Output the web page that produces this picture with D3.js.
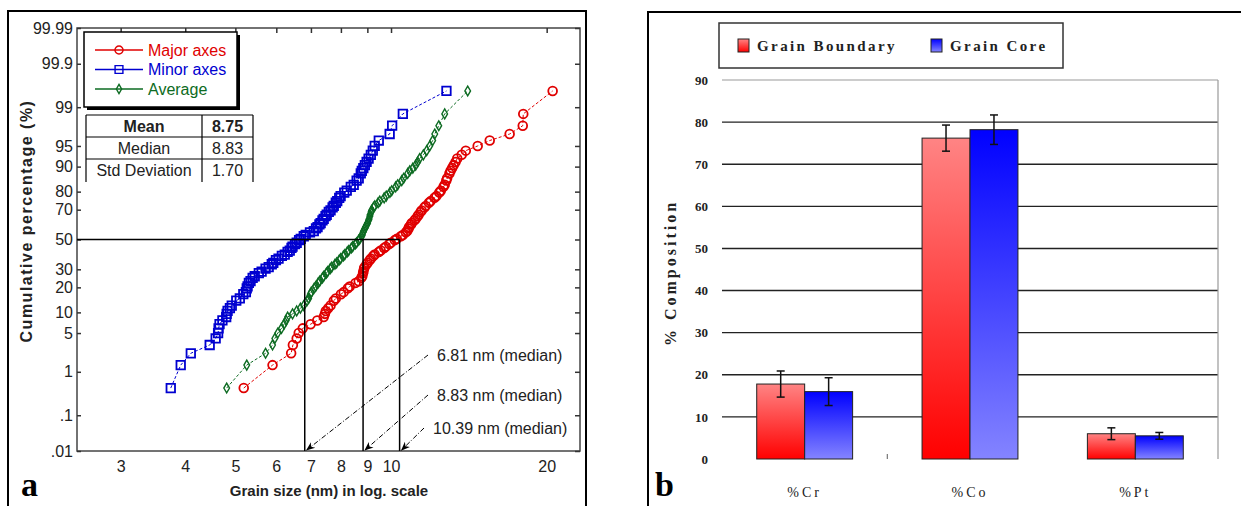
<!DOCTYPE html>
<html>
<head>
<meta charset="utf-8">
<script src="https://cdn.jsdelivr.net/npm/d3@7"></script>
<style>
  body { margin: 0; background: #fff; }
  svg { display: block; }
</style>
</head>
<body>
<svg id="chart" width="1241" height="506"></svg>
<script>
// ---------- data, panel a (cumulative grain size) ----------
const cumPct = [0.45, 1.36, 2.27, 3.18, 4.09, 5.00, 5.91, 6.82, 7.73, 8.64, 9.55, 10.45, 11.36, 12.27,
  14.09, 15.00, 16.82, 17.73, 19.55, 20.45, 22.27, 23.18, 25.00, 25.91, 27.73, 28.64, 30.45, 31.36,
  33.18, 34.09, 35.91, 36.82, 38.64, 39.55, 41.36, 42.27, 44.09, 45.00, 46.82, 47.73, 49.55, 50.45,
  52.27, 53.18, 55.00, 55.91, 57.73, 58.64, 60.45, 61.36, 63.18, 64.09, 65.91, 66.82, 68.64, 69.55,
  71.36, 72.27, 74.09, 75.00, 76.82, 77.73, 79.55, 80.45, 82.27, 83.18, 85.00, 85.91, 87.73, 88.64,
  89.55, 90.45, 91.36, 92.27, 93.18, 94.09, 95.00, 95.91, 96.82, 97.73, 98.64, 99.55];
const majorAxes = [5.19, 5.90, 6.41, 6.46, 6.57, 6.63, 6.75, 6.99, 7.20, 7.41, 7.45, 7.48, 7.56, 7.64,
  7.75, 7.82, 8.00, 8.10, 8.25, 8.32, 8.54, 8.66, 8.76, 8.80, 8.83, 8.84, 8.87, 8.89,
  8.97, 9.01, 9.10, 9.14, 9.24, 9.30, 9.47, 9.55, 9.70, 9.77, 9.92, 9.99, 10.17, 10.26,
  10.45, 10.54, 10.68, 10.75, 10.81, 10.84, 10.93, 10.97, 11.10, 11.16, 11.26, 11.31, 11.41, 11.46,
  11.60, 11.67, 11.84, 11.93, 12.14, 12.24, 12.40, 12.48, 12.63, 12.70, 12.79, 12.84, 12.97, 13.04,
  13.13, 13.22, 13.33, 13.43, 13.70, 13.95, 14.71, 15.52, 16.96, 17.98, 18.02, 20.54];
const minorAxes = [3.75, 3.92, 4.10, 4.46, 4.58, 4.63, 4.64, 4.66, 4.72, 4.80, 4.81, 4.83, 4.88, 4.92,
  5.02, 5.10, 5.18, 5.24, 5.26, 5.28, 5.31, 5.35, 5.40, 5.45, 5.55, 5.62, 5.72, 5.80,
  5.88, 5.92, 5.99, 6.06, 6.15, 6.23, 6.31, 6.37, 6.42, 6.45, 6.52, 6.57, 6.64, 6.69,
  6.78, 6.84, 6.97, 7.09, 7.16, 7.21, 7.27, 7.31, 7.37, 7.41, 7.47, 7.51, 7.58, 7.64,
  7.71, 7.75, 7.82, 7.87, 7.94, 7.99, 8.12, 8.21, 8.36, 8.47, 8.58, 8.66, 8.74, 8.78,
  8.84, 8.90, 8.97, 9.05, 9.14, 9.22, 9.30, 9.47, 9.94, 10.05, 10.54, 12.80];
const averageSize = [4.81, 5.26, 5.72, 5.90, 5.96, 6.04, 6.14, 6.21, 6.27, 6.31, 6.45, 6.57, 6.68, 6.78,
  6.88, 6.93, 6.98, 7.01, 7.10, 7.15, 7.23, 7.28, 7.37, 7.41, 7.50, 7.54, 7.63, 7.68,
  7.79, 7.85, 7.94, 7.99, 8.09, 8.14, 8.23, 8.28, 8.38, 8.43, 8.53, 8.58, 8.66, 8.70,
  8.77, 8.80, 8.83, 8.85, 8.90, 8.93, 8.98, 9.01, 9.05, 9.07, 9.10, 9.11, 9.15, 9.17,
  9.25, 9.30, 9.44, 9.51, 9.70, 9.79, 9.95, 10.03, 10.21, 10.30, 10.49, 10.58, 10.77, 10.87,
  11.02, 11.16, 11.26, 11.36, 11.55, 11.72, 11.88, 12.04, 12.15, 12.37, 12.70, 14.07];
const seriesNames = ["Major axes", "Minor axes", "Average"];
const medians = [6.81, 8.83, 10.39];
const medianLabels = ["6.81 nm (median)", "8.83 nm (median)", "10.39 nm (median)"];
const probTicks = [0.01, 0.1, 1, 5, 10, 20, 30, 50, 70, 80, 90, 95, 99, 99.9, 99.99];
const probLabels = [".01", ".1", "1", "5", "10", "20", "30", "50", "70", "80", "90", "95", "99", "99.9", "99.99"];
const sizeTicks = [3, 4, 5, 6, 7, 8, 9, 10, 20];
const statRows = [["Mean", "8.75"], ["Median", "8.83"], ["Std Deviation", "1.70"]];

// ---------- data, panel b (composition) ----------
const elements = ["%Cr", "%Co", "%Pt"];
const phases = ["Grain Boundary", "Grain Core"];
const boundaryPct = [17.8, 76.2, 6.0];
const boundaryErr = [3.1, 3.1, 1.4];
const corePct = [16.0, 78.2, 5.5];
const coreErr = [3.3, 3.5, 0.8];
const compTicks = [0, 10, 20, 30, 40, 50, 60, 70, 80, 90];

const svg = d3.select("#chart");
const SANS = "'Liberation Sans', Arial, sans-serif";
const SERIF = "'Liberation Serif', 'Times New Roman', serif";

// inverse normal CDF (Acklam) for the probability axis
function probit(p) {
  const a = [-39.69683028665376, 220.9460984245205, -275.9285104469687, 138.3577518672690, -30.66479806614716, 2.506628277459239];
  const b = [-54.47609879822406, 161.5858368580409, -155.6989798598866, 66.80131188771972, -13.28068155288572];
  const c = [-0.007784894002430293, -0.3223964580411365, -2.400758277161838, -2.549732539343734, 4.374664141464968, 2.938163982698783];
  const d = [0.007784695709041462, 0.3224671290700398, 2.445134137142996, 3.754408661907416];
  const lo = 0.02425;
  if (p < lo) {
    const q = Math.sqrt(-2 * Math.log(p));
    return (((((c[0]*q + c[1])*q + c[2])*q + c[3])*q + c[4])*q + c[5]) / ((((d[0]*q + d[1])*q + d[2])*q + d[3])*q + 1);
  }
  if (p > 1 - lo) {
    const q = Math.sqrt(-2 * Math.log(1 - p));
    return -(((((c[0]*q + c[1])*q + c[2])*q + c[3])*q + c[4])*q + c[5]) / ((((d[0]*q + d[1])*q + d[2])*q + d[3])*q + 1);
  }
  const q = p - 0.5, r = q * q;
  return (((((a[0]*r + a[1])*r + a[2])*r + a[3])*r + a[4])*r + a[5])*q / (((((b[0]*r + b[1])*r + b[2])*r + b[3])*r + b[4])*r + 1);
}

const defs = svg.append("defs");

// ================= PANEL A =================
svg.append("rect").attr("x", 8).attr("y", 11).attr("width", 578).attr("height", 520)
  .attr("fill", "none").attr("stroke", "#000").attr("stroke-width", 2);

const A = { l: 77, r: 580, t: 28, b: 451 };
const x = d3.scaleLog().domain([2.47, 23.2]).range([A.l, A.r]);
const z = d3.scaleLinear().domain([probit(0.0001), probit(0.9999)]).range([A.b, A.t]);
const yP = p => z(probit(p / 100));

const ga = svg.append("g");

// frame
ga.append("rect").attr("x", A.l).attr("y", A.t).attr("width", A.r - A.l).attr("height", A.b - A.t)
  .attr("fill", "none").attr("stroke", "#444").attr("stroke-width", 1.5);

const zTicks = probTicks.map(p => probit(p / 100));
const axLeft = ga.append("g").attr("transform", `translate(${A.l},0)`)
  .call(d3.axisLeft(z).tickValues(zTicks).tickFormat((d, i) => probLabels[i]).tickSize(-4).tickPadding(4));
const axRight = ga.append("g").attr("transform", `translate(${A.r},0)`)
  .call(d3.axisRight(z).tickValues(zTicks).tickFormat("").tickSize(-5));
const axTop = ga.append("g").attr("transform", `translate(0,${A.t})`)
  .call(d3.axisTop(x).tickValues(sizeTicks).tickFormat("").tickSize(-5));
const axBottom = ga.append("g").attr("transform", `translate(0,${A.b})`)
  .call(d3.axisBottom(x).tickValues(sizeTicks).tickFormat(d3.format("d")).tickSize(0).tickPadding(10));
[axLeft, axRight, axTop, axBottom].forEach(g => {
  g.select(".domain").remove();
  g.selectAll("line").attr("stroke", "#333").attr("stroke-width", 1.5);
  g.selectAll("text").attr("font-family", SANS).attr("font-size", 16).attr("fill", "#222");
});

// series
const seriesA = [
  { name: seriesNames[0], sizes: majorAxes, color: "#e00000", sym: d3.symbolCircle, area: 60, sw: 1.8 },
  { name: seriesNames[1], sizes: minorAxes, color: "#0000d0", sym: d3.symbolSquare, area: 72, sw: 1.8 },
  { name: seriesNames[2], sizes: averageSize, color: "#0d6b22", sym: d3.symbolDiamond, area: 28, sw: 1.4 }
];
const line = d3.line().x(d => x(d[0])).y(d => yP(d[1]));
seriesA.forEach(s => {
  const pts = s.sizes.map((v, i) => [v, cumPct[i]]);
  const g = ga.append("g");
  g.append("path").datum(pts).attr("d", line).attr("fill", "none")
    .attr("stroke", s.color).attr("stroke-width", 1).attr("stroke-dasharray", "3,2");
  g.selectAll("path.m").data(pts).join("path").attr("class", "m")
    .attr("transform", d => `translate(${x(d[0])},${yP(d[1])})`)
    .attr("d", d3.symbol().type(s.sym).size(s.area))
    .attr("fill", "none").attr("stroke", s.color).attr("stroke-width", s.sw);
});

// median guide lines
ga.append("line").attr("x1", A.l).attr("x2", x(medians[2])).attr("y1", yP(50)).attr("y2", yP(50))
  .attr("stroke", "#000").attr("stroke-width", 1.5);
ga.selectAll("line.med").data(medians).join("line").attr("class", "med")
  .attr("x1", d => x(d)).attr("x2", d => x(d)).attr("y1", yP(50)).attr("y2", A.b)
  .attr("stroke", "#000").attr("stroke-width", 1.5);

// arrows + labels
defs.append("marker").attr("id", "arrow").attr("viewBox", "0 0 10 10")
  .attr("refX", 9).attr("refY", 5).attr("markerWidth", 9).attr("markerHeight", 9)
  .attr("orient", "auto").attr("markerUnits", "userSpaceOnUse")
  .append("path").attr("d", "M0,1 L10,5 L0,9 L3,5 Z").attr("fill", "#000");
const labelY = [355, 395, 428];
const labelX = [437, 437, 433];
medians.forEach((m, i) => {
  ga.append("line").attr("x1", labelX[i] - 9).attr("y1", labelY[i]).attr("x2", x(m) + 2).attr("y2", A.b - 1)
    .attr("stroke", "#000").attr("stroke-width", 1).attr("stroke-dasharray", "5,2,1,2")
    .attr("marker-end", "url(#arrow)");
  ga.append("text").attr("x", labelX[i]).attr("y", labelY[i]).attr("dy", "0.35em")
    .attr("font-family", SANS).attr("font-size", 16).attr("fill", "#222").text(medianLabels[i]);
});

// legend a
const lg = ga.append("g");
lg.append("rect").attr("x", 87).attr("y", 35).attr("width", 153).attr("height", 75).attr("fill", "#000");
lg.append("rect").attr("x", 84).attr("y", 32).attr("width", 153).attr("height", 75)
  .attr("fill", "#fff").attr("stroke", "#000").attr("stroke-width", 1.5);
seriesA.forEach((s, i) => {
  const yy = 50 + i * 19.5;
  lg.append("line").attr("x1", 95).attr("x2", 143).attr("y1", yy).attr("y2", yy)
    .attr("stroke", s.color).attr("stroke-width", 1.5);
  lg.append("path").attr("transform", `translate(119,${yy})`)
    .attr("d", d3.symbol().type(s.sym).size(s.area * 0.85)).attr("fill", "none")
    .attr("stroke", s.color).attr("stroke-width", 1.4);
  lg.append("text").attr("x", 148).attr("y", yy).attr("dy", "0.35em")
    .attr("font-family", SANS).attr("font-size", 16).attr("fill", s.color).text(s.name);
});

// stats table
const tb = ga.append("g");
const colX = [86, 202, 253];
const rowY = [115, 137, 159, 182];
tb.append("rect").attr("x", colX[0]).attr("y", rowY[0]).attr("width", colX[2] - colX[0]).attr("height", rowY[3] - rowY[0])
  .attr("fill", "#fff");
[rowY[0], rowY[1], rowY[2]].forEach(yy => tb.append("line").attr("x1", colX[0]).attr("x2", colX[2])
  .attr("y1", yy).attr("y2", yy).attr("stroke", "#000").attr("stroke-width", 1.2));
colX.forEach(xx => tb.append("line").attr("x1", xx).attr("x2", xx).attr("y1", rowY[0]).attr("y2", rowY[3])
  .attr("stroke", "#000").attr("stroke-width", 1.2));
statRows.forEach((r, i) => {
  const yy = (rowY[i] + rowY[i + 1]) / 2;
  [0, 1].forEach(j => tb.append("text").attr("x", (colX[j] + colX[j + 1]) / 2).attr("y", yy).attr("dy", "0.35em")
    .attr("text-anchor", "middle").attr("font-family", SANS).attr("font-size", 16)
    .attr("font-weight", i === 0 ? "bold" : "normal").attr("fill", "#222").text(r[j]));
});

// axis titles
ga.append("text").attr("transform", "translate(32,221) rotate(-90)").attr("text-anchor", "middle")
  .attr("font-family", SANS).attr("font-size", 16).attr("font-weight", "bold").attr("letter-spacing", 1.5)
  .attr("fill", "#222").text("Cumulative percentage (%)");
ga.append("text").attr("x", 329).attr("y", 496).attr("text-anchor", "middle")
  .attr("font-family", SANS).attr("font-size", 15).attr("font-weight", "bold")
  .attr("fill", "#222").text("Grain size (nm) in log. scale");
ga.append("text").attr("x", 21).attr("y", 496).attr("font-family", SERIF).attr("font-size", 34)
  .attr("font-weight", "bold").text("a");

// ================= PANEL B =================
svg.append("rect").attr("x", 648).attr("y", 12).attr("width", 620).attr("height", 520)
  .attr("fill", "none").attr("stroke", "#000").attr("stroke-width", 2);

const B = { l: 722, r: 1218, t: 80, b: 459 };
const x0 = d3.scaleBand().domain(elements).range([B.l, B.r]).paddingInner(0.42).paddingOuter(0.21);
const x1 = d3.scaleBand().domain(phases).range([0, x0.bandwidth()]);
const yb = d3.scaleLinear().domain([0, 90]).range([B.b, B.t]);

const gradR = defs.append("linearGradient").attr("id", "gradRed").attr("x1", 0).attr("y1", 0).attr("x2", 0).attr("y2", 1);
gradR.append("stop").attr("offset", "0%").attr("stop-color", "#ff8484");
gradR.append("stop").attr("offset", "100%").attr("stop-color", "#ff0000");
const gradB = defs.append("linearGradient").attr("id", "gradBlue").attr("x1", 0).attr("y1", 0).attr("x2", 0).attr("y2", 1);
gradB.append("stop").attr("offset", "0%").attr("stop-color", "#0000ff");
gradB.append("stop").attr("offset", "100%").attr("stop-color", "#8484ff");
const phaseFill = { "Grain Boundary": "url(#gradRed)", "Grain Core": "url(#gradBlue)" };

const gb = svg.append("g");
// grid
gb.selectAll("line.grid").data(compTicks.filter(t => t > 0)).join("line").attr("class", "grid")
  .attr("x1", B.l).attr("x2", B.r).attr("y1", d => yb(d)).attr("y2", d => yb(d))
  .attr("stroke", d => d === 90 ? "#999" : "#222").attr("stroke-width", d => d === 90 ? 1 : 1.4);
gb.append("line").attr("x1", B.r).attr("x2", B.r).attr("y1", B.t).attr("y2", B.b)
  .attr("stroke", "#999").attr("stroke-width", 1.2);
gb.selectAll("line.sep").data(elements.slice(1, 2)).join("line").attr("class", "sep")
  .attr("x1", d => x0(d) - x0.step() * 0.21).attr("x2", d => x0(d) - x0.step() * 0.21)
  .attr("y1", B.b - 5).attr("y2", B.b).attr("stroke", "#777").attr("stroke-width", 1.2);

const yAxisB = gb.append("g").attr("transform", `translate(${B.l},0)`)
  .call(d3.axisLeft(yb).tickValues(compTicks).tickSize(0).tickPadding(14));
yAxisB.select(".domain").remove();
yAxisB.selectAll("text").attr("font-family", SERIF).attr("font-size", 13).attr("font-weight", "bold").attr("fill", "#222");

// bars
const barData = elements.map((e, i) => [
  { el: e, ph: phases[0], v: boundaryPct[i], err: boundaryErr[i] },
  { el: e, ph: phases[1], v: corePct[i], err: coreErr[i] }
]).flat();
gb.selectAll("rect.bar").data(barData).join("rect").attr("class", "bar")
  .attr("x", d => x0(d.el) + x1(d.ph)).attr("width", x1.bandwidth())
  .attr("y", d => yb(d.v)).attr("height", d => yb(0) - yb(d.v))
  .attr("fill", d => phaseFill[d.ph]).attr("stroke", "#222").attr("stroke-width", 1);
// error bars
const eb = gb.selectAll("g.err").data(barData).join("g").attr("class", "err")
  .attr("transform", d => `translate(${x0(d.el) + x1(d.ph) + x1.bandwidth() / 2},0)`);
eb.append("line").attr("y1", d => yb(d.v + d.err)).attr("y2", d => yb(d.v - d.err))
  .attr("stroke", "#111").attr("stroke-width", 1.5);
eb.append("line").attr("x1", -4).attr("x2", 4).attr("y1", d => yb(d.v + d.err)).attr("y2", d => yb(d.v + d.err))
  .attr("stroke", "#111").attr("stroke-width", 1.5);
eb.append("line").attr("x1", -4).attr("x2", 4).attr("y1", d => yb(d.v - d.err)).attr("y2", d => yb(d.v - d.err))
  .attr("stroke", "#111").attr("stroke-width", 1.5);

// category labels
gb.selectAll("text.cat").data(elements).join("text").attr("class", "cat")
  .attr("x", d => x0(d) + x0.bandwidth() / 2).attr("y", 492).attr("dy", "0.35em").attr("text-anchor", "middle")
  .attr("font-family", SERIF).attr("font-size", 14).attr("letter-spacing", 3).attr("fill", "#222").text(d => d);

// legend b
gb.append("rect").attr("x", 719).attr("y", 23).attr("width", 344).attr("height", 45)
  .attr("fill", "#fff").attr("stroke", "#333").attr("stroke-width", 1.5);
const legX = [738, 931];
phases.forEach((p, i) => {
  gb.append("rect").attr("x", legX[i]).attr("y", 39).attr("width", 11).attr("height", 13)
    .attr("fill", phaseFill[p]).attr("stroke", "#222").attr("stroke-width", 1);
  gb.append("text").attr("x", legX[i] + 19).attr("y", 45.5).attr("dy", "0.35em")
    .attr("font-family", SERIF).attr("font-size", 15).attr("font-weight", "bold").attr("letter-spacing", 2.4)
    .attr("fill", "#222").text(p);
});

gb.append("text").attr("transform", "translate(676,273) rotate(-90)").attr("text-anchor", "middle")
  .attr("font-family", SERIF).attr("font-size", 16).attr("font-weight", "bold").attr("letter-spacing", 3)
  .attr("fill", "#222").text("% Composition");
gb.append("text").attr("x", 655).attr("y", 496).attr("font-family", SERIF).attr("font-size", 34)
  .attr("font-weight", "bold").text("b");
</script>
</body>
</html>
